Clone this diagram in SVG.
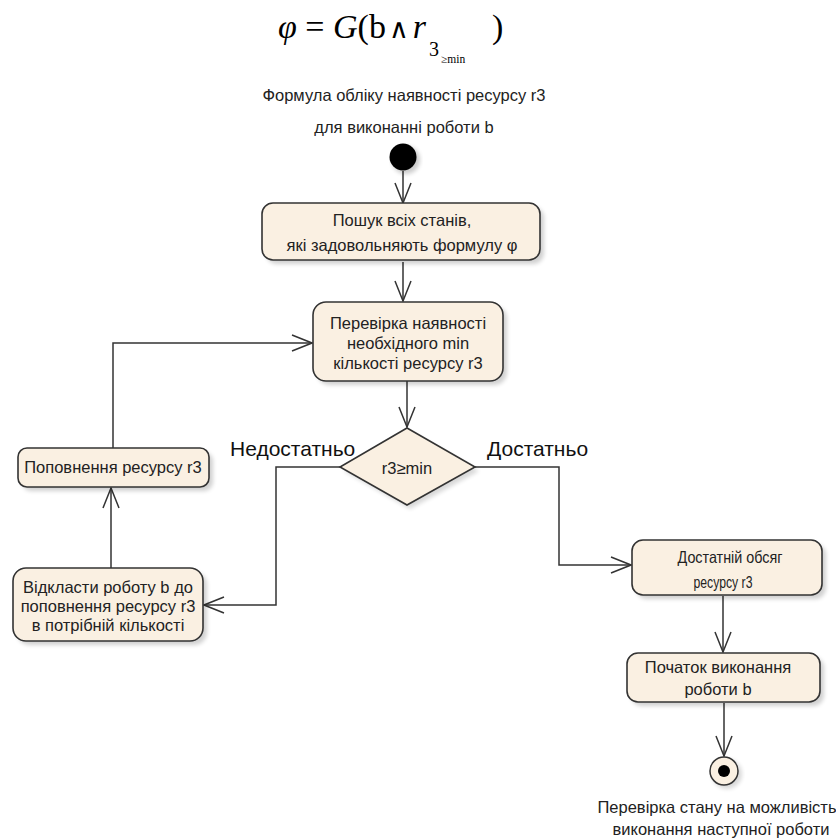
<svg xmlns="http://www.w3.org/2000/svg" width="836" height="839" viewBox="0 0 836 839">
  <style>
    .box { fill: #faf0e2; stroke: #333; stroke-width: 1.6; }
    .shadow { fill: #000; opacity: 0.18; filter: url(#blur); }
    .t { font-family: "Liberation Sans", Arial, sans-serif; font-size: 16.5px; fill: #222; text-anchor: middle; }
    .lbl { font-family: "Liberation Sans", Arial, sans-serif; font-size: 21px; fill: #111; }
    .edge { fill: none; stroke: #333; stroke-width: 1.5; marker-end: url(#open); }
    .math { font-family: "Liberation Serif", "Times New Roman", serif; fill: #000; }
  </style>
  <defs>
    <marker id="open" viewBox="0 0 22 20" refX="21" refY="10" markerWidth="22" markerHeight="20" markerUnits="userSpaceOnUse" orient="auto">
      <path d="M1 2 L21 10 L1 18" fill="none" stroke="#333" stroke-width="1.5"/>
    </marker>
    <filter id="blur" x="-10%" y="-10%" width="120%" height="130%">
      <feGaussianBlur stdDeviation="2"/>
    </filter>
  </defs>
  <rect width="836" height="839" fill="#fff"/>

  <!-- temporal formula -->
  <g id="formula" class="math">
    <text x="278" y="38" font-size="34"><tspan font-style="italic">φ</tspan> = <tspan font-style="italic">G</tspan>(b<tspan font-family="DejaVu Serif, serif" font-size="27" font-weight="normal" dx="3">∧</tspan><tspan font-style="italic" dx="4">r</tspan></text>
    <text x="429" y="56" font-size="20">3</text>
    <text x="441" y="63" font-size="11.5">≥min</text>
    <text x="492" y="38" font-size="34">)</text>
  </g>

  <g id="caption-top">
    <text class="t" x="404" y="101" font-size="17.5">Формула обліку наявності ресурсу r3</text>
    <text class="t" x="404" y="133" font-size="17.5">для виконанні роботи b</text>
  </g>

  <g id="connectors">
    <path class="edge" d="M403 171 V203"/>
    <path class="edge" d="M403 262 V301"/>
    <path class="edge" d="M407 381 V427"/>
    <path class="edge" d="M340 467 H276 V605 H204"/>
    <path class="edge" d="M475 467 H559 V565 H631"/>
    <path class="edge" d="M111 568 V488"/>
    <path class="edge" d="M113 448 V343 H312"/>
    <path class="edge" d="M723 596 V652"/>
    <path class="edge" d="M724 703 V756"/>
  </g>

  <g id="start">
    <circle cx="406" cy="160" r="14" fill="#000" opacity="0.2" filter="url(#blur)"/>
    <circle cx="403" cy="157" r="13.5" fill="#000"/>
  </g>

  <g id="search">
    <rect class="shadow" x="266" y="207" width="278" height="57" rx="11"/>
    <rect class="box" x="262" y="203" width="278" height="57" rx="11"/>
    <text class="t" x="402" y="226">Пошук всіх станів,</text>
    <text class="t" x="402" y="251">які задовольняють формулу φ</text>
  </g>

  <g id="check">
    <rect class="shadow" x="317" y="306" width="190" height="79" rx="13"/>
    <rect class="box" x="313" y="302" width="190" height="79" rx="13"/>
    <text class="t" x="408" y="329">Перевірка наявності</text>
    <text class="t" x="408" y="349">необхідного min</text>
    <text class="t" x="408" y="369">кількості ресурсу r3</text>
  </g>

  <g id="decision">
    <polygon points="410,432 479,471 410,509 344,471" fill="#000" opacity="0.15" filter="url(#blur)"/>
    <polygon class="box" points="407,428 475,467 407,505 340,467"/>
    <text class="t" x="407" y="474" font-size="20">r3≥min</text>
  </g>

  <g id="labels">
    <text class="lbl" x="230" y="456">Недостатньо</text>
    <text class="lbl" x="487" y="456">Достатньо</text>
  </g>

  <g id="replenish">
    <rect class="shadow" x="22" y="452" width="191" height="39" rx="9"/>
    <rect class="box" x="18" y="448" width="191" height="39" rx="9"/>
    <text class="t" x="113" y="473">Поповнення ресурсу r3</text>
  </g>

  <g id="postpone">
    <rect class="shadow" x="17" y="572" width="190" height="73" rx="13"/>
    <rect class="box" x="13" y="568" width="190" height="73" rx="13"/>
    <text class="t" x="108" y="593">Відкласти роботу b до</text>
    <text class="t" x="108" y="612">поповнення ресурсу r3</text>
    <text class="t" x="108" y="631">в потрібній кількості</text>
  </g>

  <g id="enough">
    <rect class="shadow" x="636" y="544" width="190" height="55" rx="11"/>
    <rect class="box" x="632" y="540" width="190" height="55" rx="11"/>
    <text class="t" x="730" y="563" font-size="13" textLength="105" lengthAdjust="spacingAndGlyphs">Достатній обсяг</text>
    <text class="t" x="723" y="588" font-size="13" textLength="59" lengthAdjust="spacingAndGlyphs">ресурсу r3</text>
  </g>

  <g id="begin">
    <rect class="shadow" x="631" y="657" width="193" height="49" rx="11"/>
    <rect class="box" x="627" y="653" width="193" height="49" rx="11"/>
    <text class="t" x="718" y="673">Початок виконання</text>
    <text class="t" x="718" y="695">роботи b</text>
  </g>

  <g id="end">
    <circle cx="727" cy="774" r="15" fill="#000" opacity="0.15" filter="url(#blur)"/>
    <circle cx="724" cy="771" r="14" fill="#faf0e2" stroke="#333" stroke-width="1.5"/>
    <circle cx="724" cy="771" r="6" fill="#000"/>
  </g>

  <g id="caption-bottom">
    <text class="t" x="717" y="813" font-size="16">Перевірка стану на можливість</text>
    <text class="t" x="721" y="835" font-size="16.5">виконання наступної роботи</text>
  </g>
</svg>
